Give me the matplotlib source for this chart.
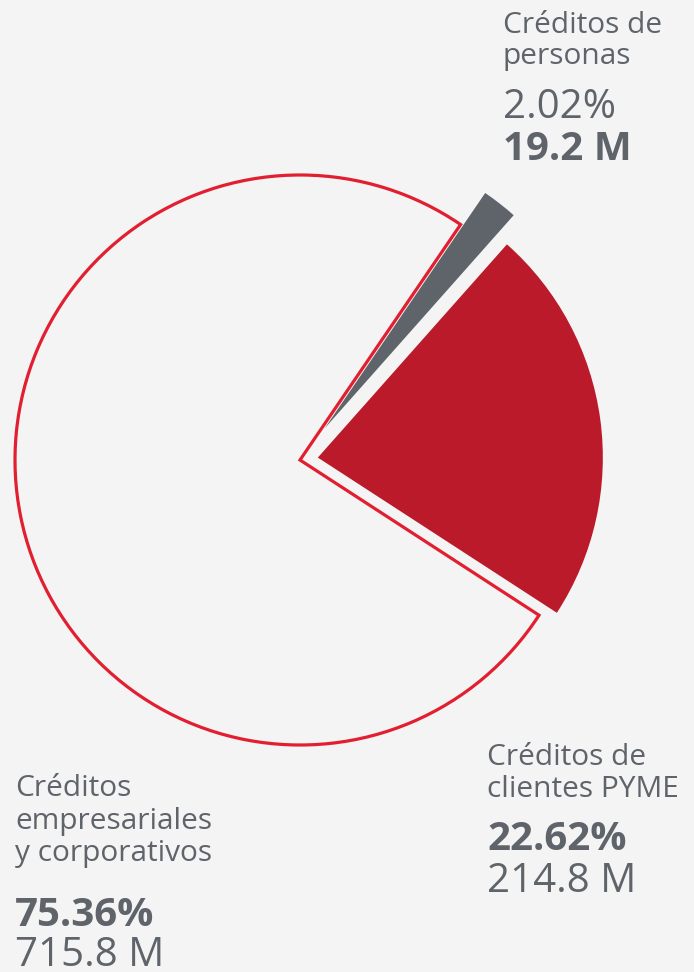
import matplotlib.pyplot as plt

# datos del grafico
segmentos = ["Créditos de\nclientes PYME", "Créditos de\npersonas", "Créditos\nempresariales\ny corporativos"]
porcentajes = [22.62, 2.02, 75.36]
montos = ["214.8 M", "19.2 M", "715.8 M"]

fondo = "#f4f4f4"
gris = "#5f646b"
rojo = "#ba1a2a"
rojo_borde = "#e21f30"

plt.rcParams["font.family"] = ["Open Sans", "DejaVu Sans"]

fig = plt.figure(figsize=(6.94, 9.72), dpi=100, facecolor=fondo)
ax = fig.add_axes([0, 0, 1, 1])
ax.set_facecolor(fondo)

H = 972
# explode va en unidades de datos (pixeles aqui)
wedges, _ = ax.pie(porcentajes, center=(300, H - 460), radius=285,
                   startangle=-33, counterclock=True,
                   explode=[18, 40, 0], frame=True)
ax.set_xlim(0, 694)
ax.set_ylim(0, 972)
ax.set_aspect("equal")
ax.axis("off")

wedges[0].set_facecolor(rojo)
wedges[0].set_edgecolor("none")
wedges[1].set_facecolor(gris)
wedges[1].set_edgecolor("none")
wedges[2].set_facecolor(fondo)
wedges[2].set_edgecolor(rojo_borde)
wedges[2].set_linewidth(2.3)
wedges[2].set_joinstyle("miter")

fs_lbl = 21.5
fs_num = 29

porcentajes_txt = {s: f"{p:.2f}%" for s, p in zip(segmentos, porcentajes)}
montos_txt = dict(zip(segmentos, montos))

def etiqueta(x, y_lineas, texto, y_pct, y_monto, pct_negrita):
    for y, linea in zip(y_lineas, texto.split("\n")):
        ax.text(x, H - y, linea, fontsize=fs_lbl, color=gris, va="baseline", ha="left")
    ax.text(x, H - y_pct, porcentajes_txt[texto], fontsize=fs_num, color=gris,
            va="baseline", ha="left", fontweight="bold" if pct_negrita else "normal")
    ax.text(x, H - y_monto, montos_txt[texto], fontsize=fs_num, color=gris,
            va="baseline", ha="left", fontweight="normal" if pct_negrita else "bold")

etiqueta(503, [33, 64], segmentos[1], 118, 160, False)
etiqueta(487, [765, 797], segmentos[0], 850, 892, True)
etiqueta(15, [796, 829, 861], segmentos[2], 926, 966, True)

fig.savefig("out.png", dpi=100, facecolor=fondo)
